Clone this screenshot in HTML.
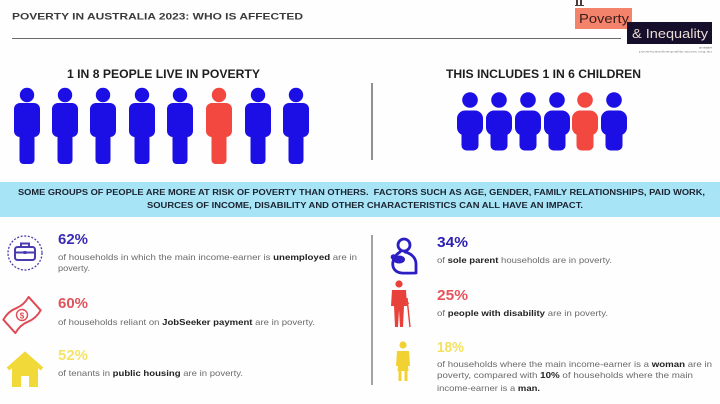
<!DOCTYPE html>
<html>
<head>
<meta charset="utf-8">
<style>
  html, body { margin:0; padding:0; background:#ffffff; }
  body { width:720px; height:404px; overflow:hidden; }
  svg { display:block; }
  .t { font-family:"Liberation Sans", "DejaVu Sans", sans-serif; }
</style>
</head>
<body>
<svg width="720" height="404" viewBox="0 0 720 404" xmlns="http://www.w3.org/2000/svg">
  <rect x="0" y="0" width="720" height="404" fill="#fefefe"/>

  <!-- Title -->
  <text class="t" x="12" y="19.5" font-size="9" font-weight="bold" fill="#3a3a3a" textLength="291" lengthAdjust="spacingAndGlyphs">POVERTY IN AUSTRALIA 2023: WHO IS AFFECTED</text>
  <line x1="12" y1="38.5" x2="621" y2="38.5" stroke="#6a6a6a" stroke-width="1"/>

  <!-- Logo -->
  <g fill="#4a3a3a">
    <rect x="576" y="0" width="2" height="5"/>
    <rect x="580" y="0" width="2" height="5"/>
    <rect x="575" y="5" width="9" height="1"/>
  </g>
  <rect x="575" y="8" width="57" height="21" fill="#f4836b"/>
  <text class="t" x="579" y="23" font-size="12.5" fill="#3b1c1c" textLength="50" lengthAdjust="spacingAndGlyphs">Poverty</text>
  <rect x="627" y="22" width="85" height="22" fill="#160f2b"/>
  <text class="t" x="632" y="38" font-size="12.5" fill="#eadbd3" textLength="76" lengthAdjust="spacingAndGlyphs">&amp; Inequality</text>
  <text class="t" x="712" y="48.5" font-size="2.6" fill="#666" text-anchor="end">an initiative</text>
  <text class="t" x="712" y="52.5" font-size="2.6" fill="#888" text-anchor="end" textLength="73" lengthAdjust="spacingAndGlyphs">povertyandinequality.acoss.org.au</text>

  <!-- Headings -->
  <text class="t" x="67" y="78" font-size="11.5" font-weight="bold" fill="#1e1e1e" textLength="193" lengthAdjust="spacingAndGlyphs">1 IN 8 PEOPLE LIVE IN POVERTY</text>
  <text class="t" x="446" y="78" font-size="11.5" font-weight="bold" fill="#1e1e1e" textLength="195" lengthAdjust="spacingAndGlyphs">THIS INCLUDES 1 IN 6 CHILDREN</text>

  <!-- Divider top -->
  <line x1="372" y1="83" x2="372" y2="160" stroke="#555" stroke-width="1.3"/>

  <!-- Adult figures -->
  <defs>
    <g id="adult">
      <circle cx="0" cy="95" r="7.2"/>
      <rect x="-13" y="103" width="26" height="34" rx="6"/>
      <rect x="-7.5" y="128" width="15" height="36" rx="4"/>
    </g>
    <g id="child">
      <circle cx="0" cy="100" r="7.8"/>
      <rect x="-13" y="110.5" width="26" height="25" rx="8"/>
      <rect x="-8.5" y="126" width="17" height="24.5" rx="5"/>
    </g>
  </defs>
  <g fill="#1c0fe6">
    <use href="#adult" x="27"/>
    <use href="#adult" x="65"/>
    <use href="#adult" x="103"/>
    <use href="#adult" x="142"/>
    <use href="#adult" x="180"/>
    <use href="#adult" x="258"/>
    <use href="#adult" x="296"/>
  </g>
  <use href="#adult" x="219" fill="#f2483f"/>

  <g fill="#1c0fe6">
    <use href="#child" x="470"/>
    <use href="#child" x="499"/>
    <use href="#child" x="528"/>
    <use href="#child" x="557"/>
    <use href="#child" x="614"/>
  </g>
  <use href="#child" x="585" fill="#f2483f"/>

  <!-- Band -->
  <rect x="0" y="182" width="720" height="35" fill="#a7e4f6"/>
  <text class="t" x="18" y="195" font-size="8" font-weight="bold" fill="#1a2230" textLength="687" lengthAdjust="spacingAndGlyphs">SOME GROUPS OF PEOPLE ARE MORE AT RISK OF POVERTY THAN OTHERS.&#160; FACTORS SUCH AS AGE, GENDER, FAMILY RELATIONSHIPS, PAID WORK,</text>
  <text class="t" x="147" y="208" font-size="8" font-weight="bold" fill="#1a2230" textLength="436" lengthAdjust="spacingAndGlyphs">SOURCES OF INCOME, DISABILITY AND OTHER CHARACTERISTICS CAN ALL HAVE AN IMPACT.</text>

  <!-- Bottom divider -->
  <line x1="372" y1="235" x2="372" y2="385" stroke="#666" stroke-width="1.2"/>

  <!-- Left column -->
  <circle cx="25" cy="253" r="17" fill="none" stroke="#4b3bb0" stroke-width="1.3" stroke-dasharray="2 1.6"/>
  <g fill="none" stroke="#4b3bb0" stroke-width="2">
    <rect x="15" y="247" width="20" height="13" rx="2.5"/>
    <path d="M21 247 V243.5 H29 V247"/>
    <line x1="15" y1="252.5" x2="35" y2="252.5"/>
  </g>
  <rect x="23.5" y="251" width="3" height="3" fill="#4b3bb0"/>

  <text class="t" x="58" y="244" font-size="14.5" font-weight="bold" fill="#3a2bb4" textLength="30" lengthAdjust="spacingAndGlyphs">62%</text>
  <text class="t" x="58" y="260" font-size="8.5" fill="#6a6a6a" textLength="299" lengthAdjust="spacingAndGlyphs">of households in which the main income-earner is <tspan font-weight="bold" fill="#222">unemployed</tspan> are in</text>
  <text class="t" x="58" y="271" font-size="8.5" fill="#6a6a6a" textLength="32" lengthAdjust="spacingAndGlyphs">poverty.</text>

  <!-- Icon 2: money bill -->
  <g transform="translate(22 315) rotate(-42)">
    <path d="M-17 -9 Q-8 -12 0 -9 Q8 -6 17 -9 V9 Q8 12 0 9 Q-8 6 -17 9 Z" fill="none" stroke="#e04a55" stroke-width="2" stroke-linejoin="round"/>
    <circle cx="0" cy="0" r="5.5" fill="none" stroke="#e04a55" stroke-width="1.4"/>
  </g>
  <text class="t" x="22" y="318.5" font-size="8" font-weight="bold" fill="#e04a55" text-anchor="middle">$</text>

  <text class="t" x="58" y="308" font-size="14.5" font-weight="bold" fill="#e0535b" textLength="30" lengthAdjust="spacingAndGlyphs">60%</text>
  <text class="t" x="58" y="325" font-size="8.5" fill="#6a6a6a" textLength="257" lengthAdjust="spacingAndGlyphs">of households reliant on <tspan font-weight="bold" fill="#222">JobSeeker payment</tspan> are in poverty.</text>

  <!-- Icon 3: house -->
  <path d="M8 369 L25 354 L42 369" fill="none" stroke="#f1d93a" stroke-width="4" stroke-linejoin="miter"/>
  <path d="M12 366 L25 356 L38 366 V387 H29 V376 H21 V387 H12 Z" fill="#f1d93a"/>

  <text class="t" x="58" y="360" font-size="14.5" font-weight="bold" fill="#f3e466" textLength="30" lengthAdjust="spacingAndGlyphs">52%</text>
  <text class="t" x="58" y="376" font-size="8.5" fill="#6a6a6a" textLength="185" lengthAdjust="spacingAndGlyphs">of tenants in <tspan font-weight="bold" fill="#222">public housing</tspan> are in poverty.</text>

  <!-- Right column -->
  <g fill="none" stroke="#2a1ec4" stroke-width="2.8" stroke-linecap="round" stroke-linejoin="round">
    <circle cx="404" cy="245" r="6"/>
    <path d="M400 252 C393 256, 390 266, 396 271 C400 274, 405 273, 416 273 L416 264 C416 257, 410 253, 405 252"/>
  </g>
  <ellipse cx="399" cy="259.5" rx="6" ry="4" fill="#2a1ec4"/>
  <circle cx="393.5" cy="257" r="2.8" fill="#2a1ec4"/>

  <text class="t" x="437" y="247" font-size="14.5" font-weight="bold" fill="#2c21b2" textLength="31" lengthAdjust="spacingAndGlyphs">34%</text>
  <text class="t" x="437" y="263" font-size="8.5" fill="#6a6a6a" textLength="175" lengthAdjust="spacingAndGlyphs">of <tspan font-weight="bold" fill="#222">sole parent</tspan> households are in poverty.</text>

  <g fill="#e8413c">
    <circle cx="399" cy="284" r="3.6"/>
    <path d="M392 290 H406 L407 306 H404 L403 327 H400 L399 310 L398 327 H395 L394 306 H391 Z"/>
  </g>
  <line x1="407" y1="298" x2="410" y2="327" stroke="#e8413c" stroke-width="1.4"/>
  <line x1="405" y1="298" x2="408.5" y2="304" stroke="#e8413c" stroke-width="1.4"/>

  <text class="t" x="437" y="300" font-size="14.5" font-weight="bold" fill="#e8535b" textLength="31" lengthAdjust="spacingAndGlyphs">25%</text>
  <text class="t" x="437" y="316" font-size="8.5" fill="#6a6a6a" textLength="171" lengthAdjust="spacingAndGlyphs">of <tspan font-weight="bold" fill="#222">people with disability</tspan> are in poverty.</text>

  <g fill="#f2d232">
    <circle cx="403" cy="345" r="3.6"/>
    <path d="M397 351 H409 L410 366 H408 L408.5 371 H397.5 L398 366 H396 Z"/>
    <rect x="398.5" y="370" width="3" height="11"/>
    <rect x="404.5" y="370" width="3" height="11"/>
  </g>

  <text class="t" x="437" y="352" font-size="14.5" font-weight="bold" fill="#f3e15c" textLength="27" lengthAdjust="spacingAndGlyphs">18%</text>
  <text class="t" x="437" y="367" font-size="8.5" fill="#6a6a6a" textLength="275" lengthAdjust="spacingAndGlyphs">of households where the main income-earner is a <tspan font-weight="bold" fill="#222">woman</tspan> are in</text>
  <text class="t" x="437" y="378" font-size="8.5" fill="#6a6a6a" textLength="256" lengthAdjust="spacingAndGlyphs">poverty, compared with <tspan font-weight="bold" fill="#222">10%</tspan> of households where the main</text>
  <text class="t" x="437" y="391" font-size="8.5" fill="#6a6a6a" textLength="103" lengthAdjust="spacingAndGlyphs">income-earner is a <tspan font-weight="bold" fill="#222">man.</tspan></text>
</svg>
</body>
</html>
